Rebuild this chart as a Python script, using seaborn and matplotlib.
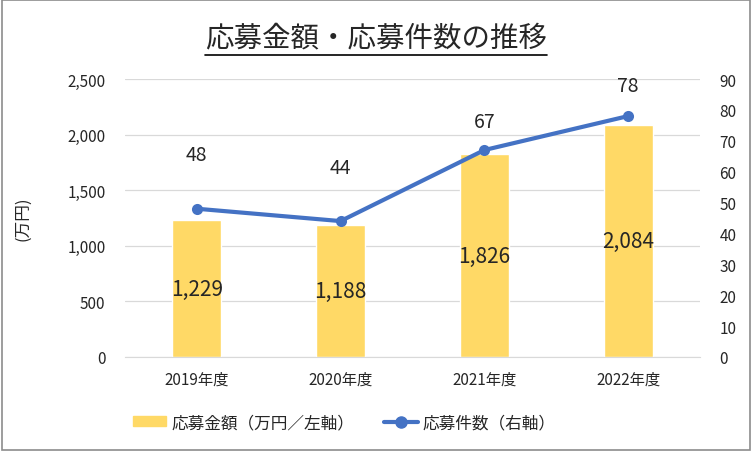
import pandas as pd
import numpy as np
import matplotlib.pyplot as plt
import seaborn as sns
from matplotlib.lines import Line2D
from matplotlib.patches import Rectangle

years = ["2019年度", "2020年度", "2021年度", "2022年度"]
amounts = [1229, 1188, 1826, 2084]
counts = [48, 44, 67, 78]
left_ticks = [0, 500, 1000, 1500, 2000, 2500]
right_ticks = list(range(0, 100, 10))
# label offsets above each point (pixels), as placed in the original
count_label_offsets = [54, 54, 29, 31]

sns.set_style("white")
plt.rcParams['font.family'] = ['Noto Sans CJK JP', 'DejaVu Sans']

df = pd.DataFrame({"year": years, "amount": amounts, "count": counts})

fig = plt.figure(figsize=(7.52, 4.52), dpi=100)
ax = fig.add_axes([0.166, 0.208, 0.765, 0.615])

sns.barplot(data=df, x="year", y="amount", color="#FFD966", width=0.34,
            saturation=1, ax=ax, zorder=2)
ax.set_ylim(0, 2500)
ax.set_yticks(left_ticks)
ax.set_yticklabels([f"{v:,}" for v in left_ticks], fontsize=11)
ax.grid(axis="y", color="#D9D9D9", linewidth=0.9, zorder=0)
ax.set_axisbelow(True)
ax.set_xlabel("")
ax.set_ylabel("(万円)", fontsize=12, labelpad=26)
ax.tick_params(axis="x", labelsize=11, length=0, pad=10)
ax.tick_params(axis="y", length=0, pad=14)
for s in ["top", "right", "left"]:
    ax.spines[s].set_visible(False)
ax.spines["bottom"].set_color("#D9D9D9")
ax.set_xlim(-0.5, 3.5)

for i, v in enumerate(amounts):
    ax.text(i, v / 2, f"{v:,}", ha="center", va="center", fontsize=15)

ax2 = ax.twinx()
sns.lineplot(x=np.arange(len(years)), y=counts, color="#4472C4", linewidth=3,
             marker="o", markersize=8, markeredgewidth=0, ax=ax2, zorder=3)
ax2.set_ylim(0, 90)
ax2.set_yticks(right_ticks)
ax2.set_yticklabels([str(v) for v in right_ticks], fontsize=11)
ax2.tick_params(axis="y", length=0, pad=14)
for s in ["top", "right", "left", "bottom"]:
    ax2.spines[s].set_visible(False)
ax2.set_xlim(-0.5, 3.5)

for i, v in enumerate(counts):
    ax2.annotate(str(v), (i, v), xytext=(0, count_label_offsets[i]),
                 textcoords="offset pixels", ha="center", va="center",
                 fontsize=14)

# title with underline
title = fig.text(0.5, 0.915, "応募金額・応募件数の推移", ha="center", va="center",
                 fontsize=20.5)
fig.canvas.draw()
bb = title.get_window_extent().transformed(fig.transFigure.inverted())
fig.add_artist(Line2D([bb.x0, bb.x1], [bb.y0 - 0.006, bb.y0 - 0.006],
                      color="black", linewidth=1.2, transform=fig.transFigure))

handles = [Rectangle((0, 0), 1, 1, color="#FFD966"),
           Line2D([0], [0], color="#4472C4", linewidth=3, marker="o", markersize=8)]
fig.legend(handles, ["応募金額（万円／左軸）", "応募件数（右軸）"],
           loc="center", bbox_to_anchor=(0.458, 0.063), ncol=2, frameon=False,
           fontsize=12, handlelength=2.0, handleheight=0.5, columnspacing=1.8,
           handletextpad=0.3)

fig.add_artist(Rectangle((0.002, 0.002), 0.996, 0.996, fill=False,
                         edgecolor="#8C8C8C", linewidth=1.2,
                         transform=fig.transFigure))

fig.savefig("out.png", dpi=100)
